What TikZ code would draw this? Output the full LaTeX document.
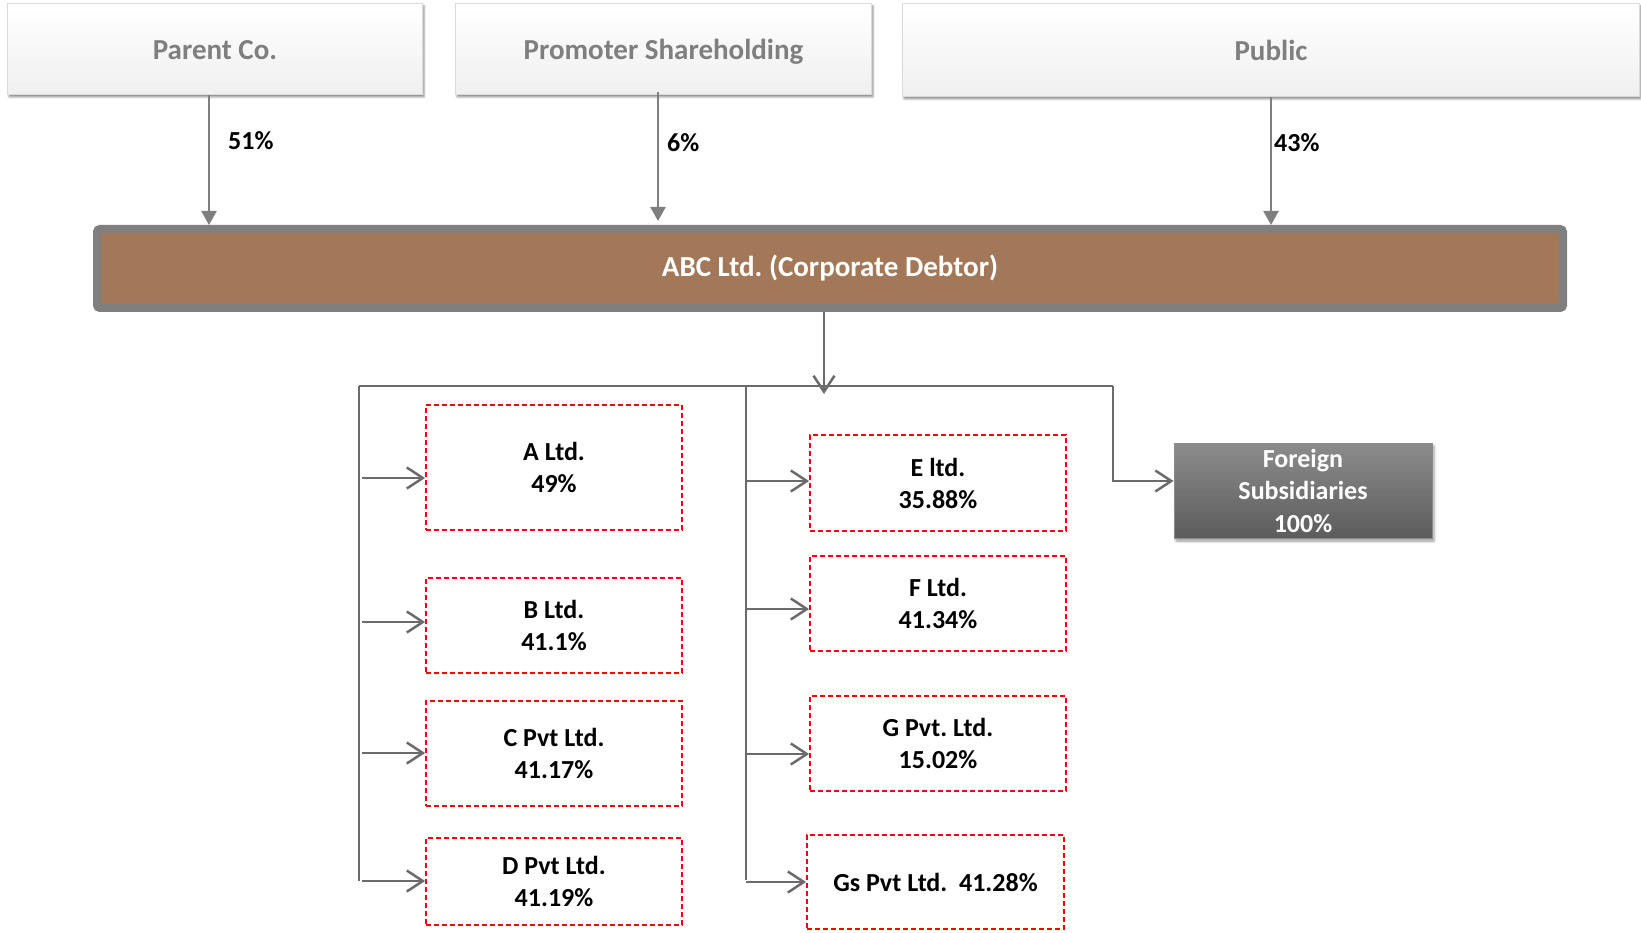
\documentclass[tikz,border=0pt]{standalone}
\usepackage{fontspec}
\setmainfont{Carlito}
\frenchspacing
\usetikzlibrary{arrows.meta,shadows.blur,calc}

\definecolor{holdtext}{HTML}{7F7F7F}
\definecolor{holdedge}{HTML}{DADADA}
\definecolor{feedgray}{HTML}{7F7F7F}
\definecolor{barrim}{HTML}{7F7F7F}
\definecolor{barfill}{HTML}{A27858}
\definecolor{linkgray}{HTML}{6B6B6B}
\definecolor{fstop}{HTML}{8C8C8C}
\definecolor{fsbot}{HTML}{5C5C5C}

\tikzset{
  holder/.style={draw=holdedge, line width=1pt, top color=white, bottom color=black!6,
    minimum height=91pt, inner sep=0pt, text=holdtext,
    font=\fontsize{29}{34}\selectfont\bfseries, text height=25pt, text depth=4pt,
    blur shadow={shadow xshift=1.5pt, shadow yshift=-2.5pt, shadow blur radius=2pt, shadow opacity=45}},
  debtor/.style={draw=barrim, line width=8pt, fill=barfill, rounded corners=3pt,
    minimum width=1466pt, minimum height=79pt, inner sep=0pt, text=white,
    font=\fontsize{29}{34}\selectfont\bfseries,
    blur shadow={shadow xshift=1pt, shadow yshift=-2pt, shadow blur radius=2pt, shadow opacity=35}},
  stake/.style={draw=red, line width=1.8pt, dash pattern=on 5pt off 3pt, fill=white,
    inner sep=0pt, align=center, font=\fontsize{26}{32}\selectfont\bfseries},
  overseas/.style={draw=black!45, line width=0.8pt, top color=fstop, bottom color=fsbot,
    minimum width=258pt, minimum height=95pt, inner sep=0pt, align=center, text=white,
    font=\fontsize{26}{32.5}\selectfont\bfseries,
    blur shadow={shadow xshift=2pt, shadow yshift=-3pt, shadow blur radius=2.5pt, shadow opacity=40}},
  pct/.style={inner sep=0pt, font=\fontsize{26}{30}\selectfont\bfseries},
  feed/.style={draw=feedgray, line width=2.5pt, -{Triangle[length=14pt,width=15pt]}},
  link/.style={draw=linkgray, line width=2.5pt},
  barb/.style={link, -{Straight Barb[length=16pt,width=21pt]}}
}

\begin{document}
\begin{tikzpicture}[x=1pt,y=-1pt]
\useasboundingbox (0,0) rectangle (1641,933);

% shareholders
\node[holder, minimum width=415pt] (parent) at (215,49) {Parent Co.};
\node[holder, minimum width=416pt] (promoter) at (663.5,49) {Promoter Shareholding};
\node[holder, minimum width=737pt, minimum height=93pt] (public) at (1271,50) {Public};

% corporate debtor
\node[debtor] (abc) at (830,268.5) {ABC Ltd. (Corporate Debtor)};

% shareholding arrows
\draw[feed] ([xshift=-6pt]parent.south) -- ([xshift=-6pt]parent.south |- abc.north);
\draw[feed, shorten >=4pt] ([xshift=-5.5pt,yshift=3pt]promoter.south) -- ([xshift=-5.5pt]promoter.south |- abc.north);
\draw[feed] (public.south) -- (public.south |- abc.north);

\node[pct, anchor=base west] (p51) at (228,150) {51\%};
\node[pct, anchor=base west] (p6) at (667,152) {6\%};
\node[pct, anchor=base west] (p43) at (1274,152) {43\%};

% associates, left column
\node[stake, minimum width=256pt, minimum height=125pt] (a) at (554,467.5) {A Ltd.\\49\%};
\node[stake, minimum width=256pt, minimum height=95pt] (b) at (554,625.5) {B Ltd.\\41.1\%};
\node[stake, minimum width=256pt, minimum height=105pt] (c) at (554,753.5) {C Pvt Ltd.\\41.17\%};
\node[stake, minimum width=256pt, minimum height=87pt] (d) at (554,881.5) {D Pvt Ltd.\\41.19\%};

% associates, right column
\node[stake, minimum width=256pt, minimum height=96pt] (e) at (938,483) {E ltd.\\35.88\%};
\node[stake, minimum width=256pt, minimum height=95pt] (f) at (938,603.5) {F Ltd.\\41.34\%};
\node[stake, minimum width=256pt, minimum height=95pt] (g) at (938,743.5) {G Pvt. Ltd.\\15.02\%};
\node[stake, minimum width=257pt, minimum height=94pt] (gs) at (935.5,882) {Gs Pvt Ltd.\ \ 41.28\%};

% foreign subsidiaries
\node[overseas] (fs) at (1303,490.5) {Foreign\\Subsidiaries\\100\%};

% distribution bus
\coordinate (busL) at (359,386);
\coordinate (busM) at (746,386);
\coordinate (busR) at (1113,386);
\coordinate (drop) at (824,394);

\coordinate (aIn) at ([yshift=-10.5pt]a.west);
\coordinate (bIn) at ([yshift=3.5pt]b.west);
\coordinate (cIn) at ([yshift=0.5pt]c.west);
\coordinate (dIn) at ([yshift=0.5pt]d.west);
\coordinate (eIn) at ([yshift=2pt]e.west);
\coordinate (fIn) at ([yshift=-5.5pt]f.west);
\coordinate (gIn) at ([yshift=-10.5pt]g.west);
\coordinate (gsIn) at (gs.west);
\coordinate (fsIn) at ([yshift=9.5pt]fs.west);

\draw[link, line width=2.2pt] (busL) -- (busR);
\draw[barb] (abc.south -| drop) -- (drop);
\draw[link, line width=2.2pt] (busL) -- (busL |- dIn);
\draw[link, line width=2.2pt] (busM) -- ([yshift=2pt]busM |- gsIn);
\draw[barb] (busR) |- (fsIn);

\draw[barb] ([xshift=3pt]busL |- aIn) -- (aIn);
\draw[barb] ([xshift=3pt]busL |- bIn) -- (bIn);
\draw[barb] ([xshift=3pt]busL |- cIn) -- (cIn);
\draw[barb] ([xshift=3pt]busL |- dIn) -- (dIn);

\draw[barb] (busM |- eIn) -- (eIn);
\draw[barb] (busM |- fIn) -- (fIn);
\draw[barb] (busM |- gIn) -- (gIn);
\draw[barb] (busM |- gsIn) -- (gsIn);
\end{tikzpicture}
\end{document}
